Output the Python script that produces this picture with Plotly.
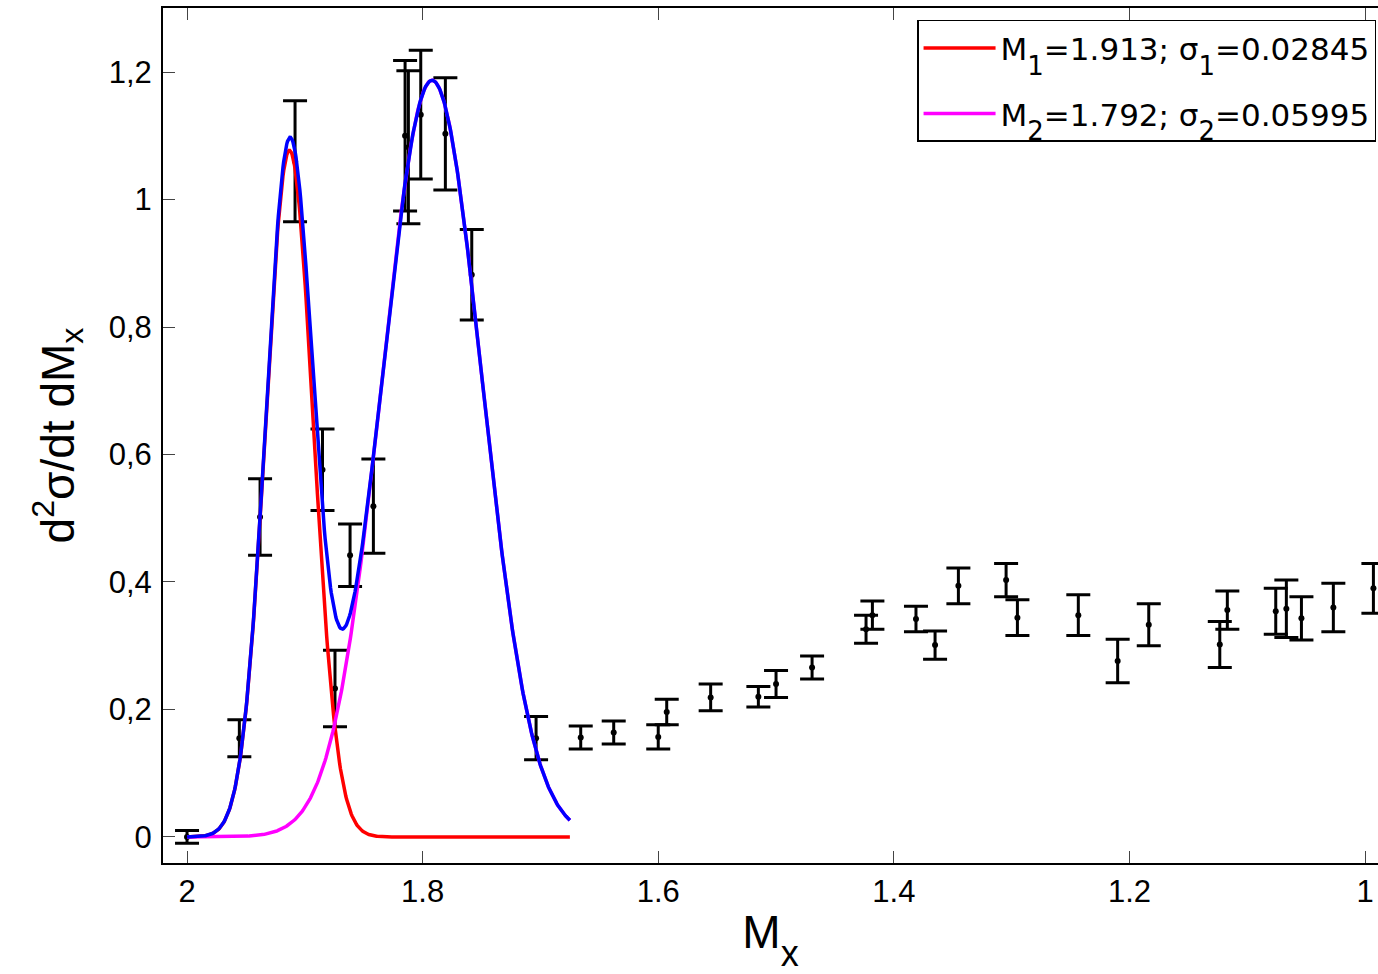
import numpy as np
import plotly.graph_objects as go

# Measured points (missing mass M_x), cross-section values and errors
mx = [2.000, 1.9556, 1.938, 1.9083, 1.885, 1.8744, 1.8616, 1.8418, 1.8149, 1.8121,
      1.8016, 1.7807, 1.7583, 1.7037, 1.6658, 1.6378, 1.600, 1.5928, 1.5555, 1.515,
      1.500, 1.4694, 1.4236, 1.4182, 1.3812, 1.365, 1.3452, 1.3047, 1.2951, 1.2434,
      1.210, 1.1836, 1.1233, 1.1169, 1.0758, 1.0668, 1.054, 1.0269, 0.9929]
val = [0.000, 0.155, 0.502, 1.060, 0.576, 0.233, 0.442, 0.519, 1.100, 1.082,
       1.133, 1.103, 0.882, 0.155, 0.156, 0.164, 0.157, 0.196, 0.219, 0.220,
       0.240, 0.266, 0.326, 0.348, 0.342, 0.301, 0.394, 0.403, 0.344, 0.348,
       0.276, 0.333, 0.302, 0.356, 0.354, 0.358, 0.343, 0.360, 0.390]
err = [0.010, 0.029, 0.060, 0.095, 0.064, 0.060, 0.049, 0.074, 0.118, 0.120,
       0.101, 0.088, 0.071, 0.034, 0.018, 0.018, 0.019, 0.020, 0.021, 0.016,
       0.021, 0.018, 0.022, 0.022, 0.020, 0.022, 0.028, 0.026, 0.028, 0.032,
       0.034, 0.033, 0.036, 0.030, 0.036, 0.045, 0.034, 0.038, 0.039]

# Fit parameters (from legend) and amplitudes
M1, S1, A1 = 1.913, 0.02845, 1.077
M2, S2, A2 = 1.792, 0.05995, 1.187
fit_range = [2.0, 1.675]

x_ticks = [2, 1.8, 1.6, 1.4, 1.2, 1]
x_ticktext = ["2", "1.8", "1.6", "1.4", "1.2", "1"]
y_ticks = [0, 0.2, 0.4, 0.6, 0.8, 1.0, 1.2]
y_ticktext = ["0", "0,2", "0,4", "0,6", "0,8", "1", "1,2"]

SUB = "<span style='font-size:26px;baseline-shift:-15px'>{}</span>"
name1 = "M" + SUB.format("1") + "=1.913; σ" + SUB.format("1") + "=0.02845"
name2 = "M" + SUB.format("2") + "=1.792; σ" + SUB.format("2") + "=0.05995"
x_title = "M<span style='font-size:36px;baseline-shift:-18px'>x</span>"
y_title = "d<sup>2</sup>σ/dt dM<sub>x</sub>"

xf = np.linspace(fit_range[0], fit_range[1], 500)
g1 = A1 * np.exp(-((xf - M1) / S1) ** 2)
g2 = A2 * np.exp(-((xf - M2) / S2) ** 2)

FONT = "Liberation Sans, Arial, sans-serif"
LEGFONT = "DejaVu Sans, Liberation Sans, sans-serif"

fig = go.Figure()
fig.add_trace(go.Scatter(
    x=mx, y=val, mode="markers", showlegend=False,
    marker=dict(color="black", size=6),
    error_y=dict(type="data", array=err, visible=True, color="black",
                 thickness=3, width=12),
))
fig.add_trace(go.Scatter(x=xf, y=g1, mode="lines", name=name1, legendgroup="a",
                         line=dict(color="#ff0000", width=3.5)))
fig.add_trace(go.Scatter(x=xf, y=g2, mode="lines", name=name2, legendgroup="b",
                         line=dict(color="#ff00ff", width=3.5)))
fig.add_trace(go.Scatter(x=xf, y=g1 + g2, mode="lines", showlegend=False,
                         line=dict(color="#0000ff", width=3.5)))

fig.update_layout(
    width=1378, height=974,
    margin=dict(l=163, r=0, t=8, b=111),
    plot_bgcolor="white", paper_bgcolor="white",
    font=dict(family=FONT, color="black", size=30),
    legend=dict(
        x=0.9984, xanchor="right", y=0.986, yanchor="top",
        bgcolor="white", bordercolor="black", borderwidth=1.5,
        font=dict(size=31, family=LEGFONT), itemwidth=72,
        tracegroupgap=22,
    ),
    xaxis=dict(
        range=[2.0204, 0.989], tickvals=x_ticks, ticktext=x_ticktext,
        ticks="inside", ticklen=12, tickwidth=1, tickcolor="#444",
        showline=True, linecolor="black", linewidth=2, mirror="ticks",
        showgrid=False, zeroline=False, automargin=False,
        tickfont=dict(size=31),
        title=dict(text=x_title, font=dict(size=46), standoff=8),
    ),
    yaxis=dict(
        range=[-0.0408, 1.3004], tickvals=y_ticks, ticktext=y_ticktext,
        ticks="inside", ticklen=12, tickwidth=1, tickcolor="#444",
        showline=True, linecolor="black", linewidth=2, mirror=False,
        showgrid=False, zeroline=False, automargin=False,
        tickfont=dict(size=31), ticklabelstandoff=3,
        title=dict(text=y_title, font=dict(size=46), standoff=20),
    ),
)

fig.write_html(
    "out.html",
    config={"displayModeBar": False},
    post_script="document.body.style.margin='0';document.body.style.overflow='hidden';",
)
